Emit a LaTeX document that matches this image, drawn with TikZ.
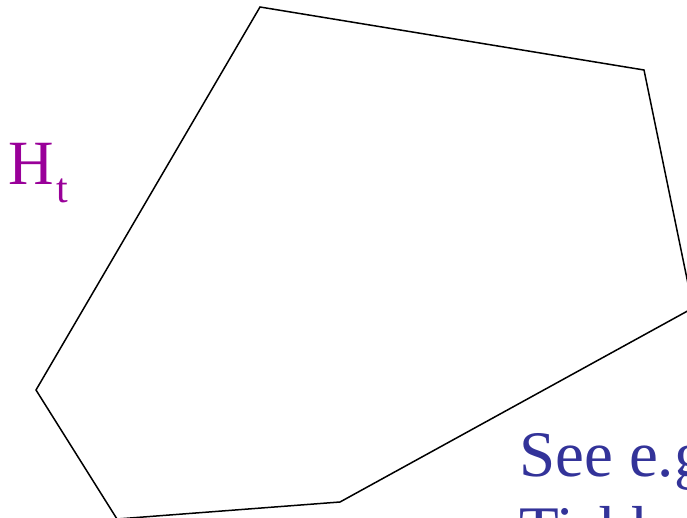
\documentclass[tikz,border=0pt]{standalone}
\usepackage{fontspec}
\setmainfont{Liberation Serif}
\usepackage{xcolor}
\definecolor{htcol}{RGB}{153,0,153}
\definecolor{seecol}{RGB}{51,51,153}
\begin{document}
\begin{tikzpicture}[x=1pt,y=-1pt,
  edge/.style={line width=1.5pt, line join=miter, draw=black},
  lbl/.style={anchor=base west, inner sep=0pt, outer sep=0pt}]
\useasboundingbox (0,0) rectangle (687,518);
\coordinate (v1) at (260,7);
\coordinate (v2) at (644,70);
\coordinate (v3) at (693,308);
\coordinate (v4) at (340,502);
\coordinate (v5) at (117,519);
\coordinate (v6) at (36,390);
\draw[edge] (v1) -- (v2) -- (v3) -- (v4) -- (v5) -- (v6) -- cycle;
\node[lbl, text=htcol, font=\fontsize{63}{63}\selectfont] (ht) at (9,185)
  {H\kern2pt\raisebox{-18pt}{\fontsize{42}{42}\selectfont t}};
\node[lbl, text=seecol, font=\fontsize{65}{75}\selectfont] (see1) at (519,476) {See e.g.};
\node[lbl, text=seecol, font=\fontsize{65}{75}\selectfont] (see2) at (519,551) {Tishby};
\end{tikzpicture}
\end{document}
